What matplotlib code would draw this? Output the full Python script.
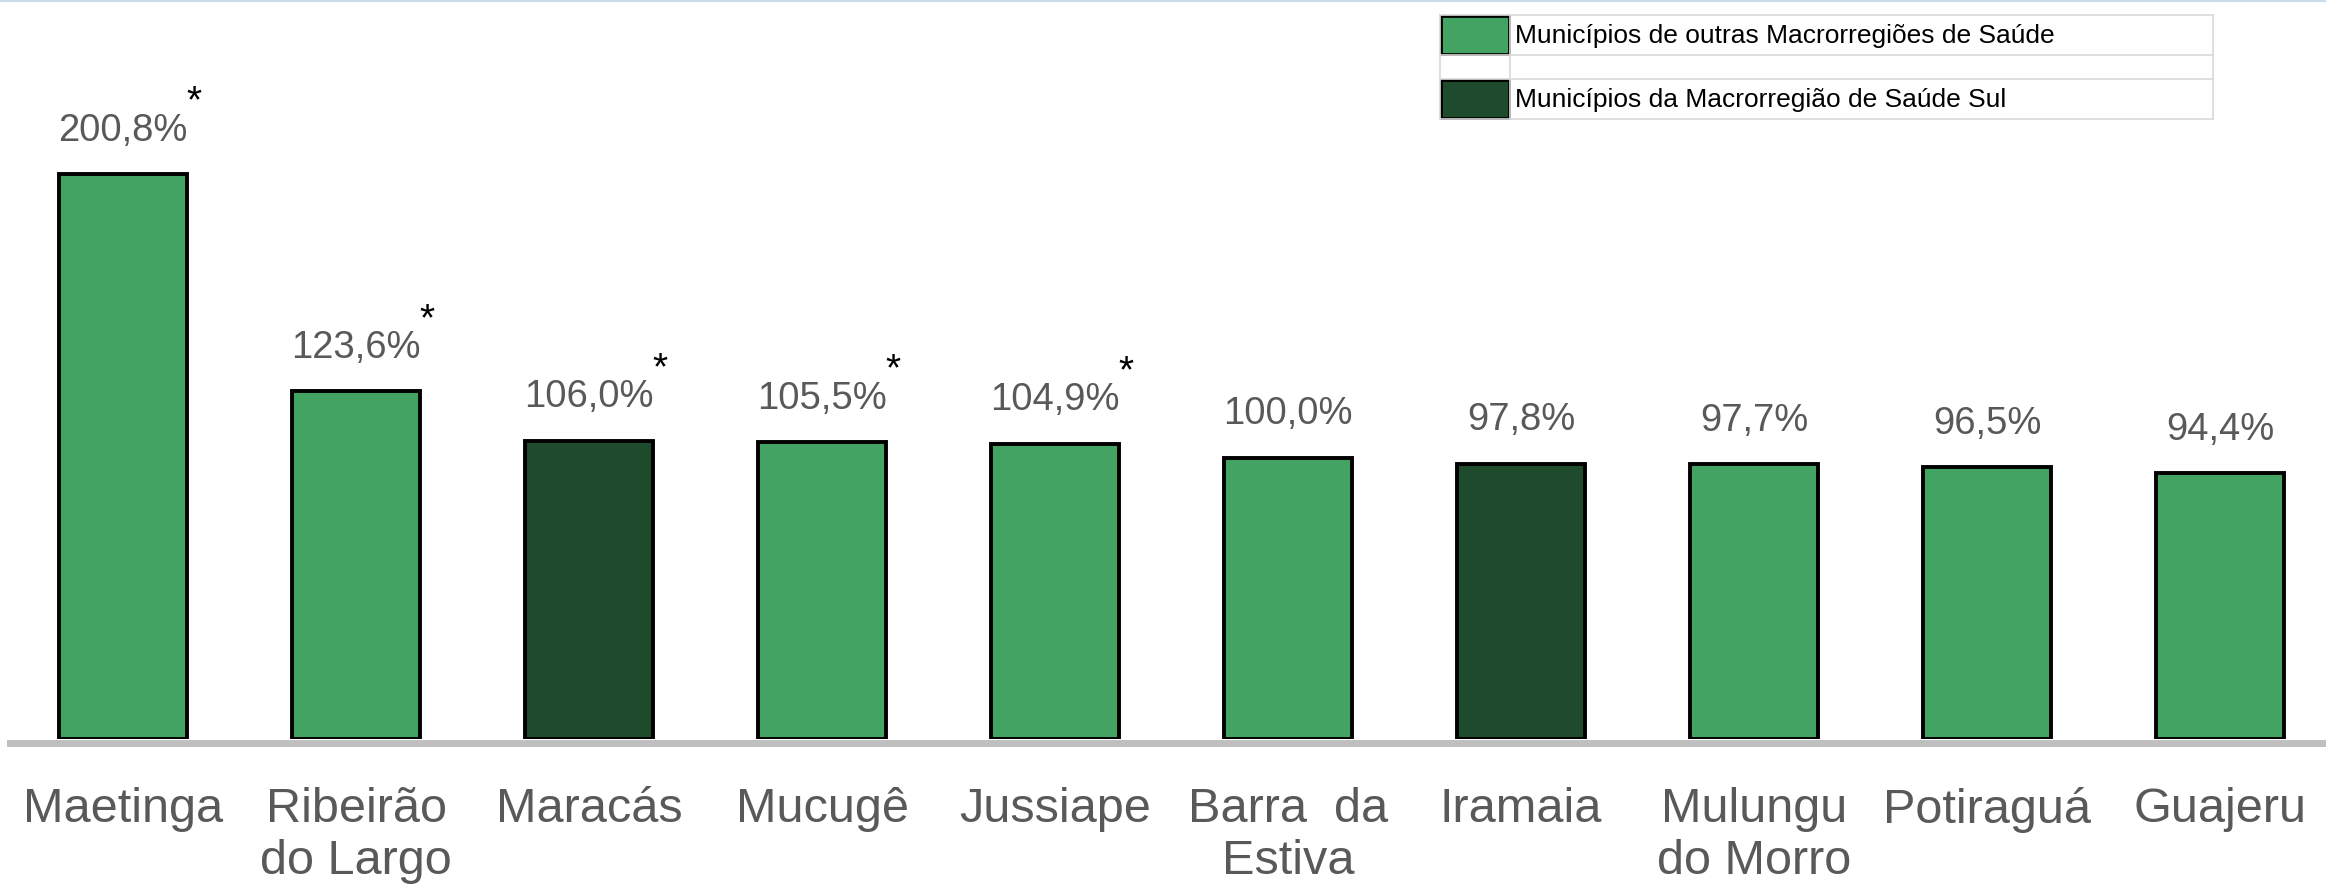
import matplotlib.pyplot as plt
from matplotlib.patches import Rectangle
from matplotlib.lines import Line2D

municipios = ["Maetinga", "Ribeirão\ndo Largo", "Maracás", "Mucugê", "Jussiape",
              "Barra  da\nEstiva", "Iramaia", "Mulungu\ndo Morro", "Potiraguá", "Guajeru"]
valores = [200.8, 123.6, 106.0, 105.5, 104.9, 100.0, 97.8, 97.7, 96.5, 94.4]
rotulos = ["200,8%", "123,6%", "106,0%", "105,5%", "104,9%",
           "100,0%", "97,8%", "97,7%", "96,5%", "94,4%"]
macro_sul = [False, False, True, False, False, False, True, False, False, False]
asterisco = [True, True, True, True, True, False, False, False, False, False]
legenda = ["Municípios de outras Macrorregiões de Saúde",
           "Municípios da Macrorregião de Saúde Sul"]

verde = "#43a362"
verde_escuro = "#1f4b2d"
cinza_texto = "#595959"

W, H = 2326, 886
fig = plt.figure(figsize=(W / 100, H / 100), dpi=100)
plt.rcParams['font.family'] = ['Liberation Sans', 'DejaVu Sans']

# main axes: baseline at y=739 px from top, bars spaced 233 px, first center at 123 px
base_px = 739
ax = fig.add_axes([0, 1 - base_px / H, 1, base_px / H])
step = 233
x0 = 123
ax.set_xlim(-x0 / step, (W - x0) / step)
ax.set_ylim(0, base_px / 2.814)
ax.axis("off")

cores = [verde_escuro if s else verde for s in macro_sul]
xs = list(range(len(valores)))
bars = ax.bar(xs, valores, width=0.55, color=cores, edgecolor="black",
              linewidth=2.8, zorder=3)

# gray axis line
ax.add_line(Line2D([10 / W, 1], [-0.006, -0.006], transform=ax.transAxes,
                   color="#bfbfbf", linewidth=5, clip_on=False, zorder=2))

for x, v, r, a in zip(xs, valores, rotulos, asterisco):
    t = ax.annotate(r, xy=(x, v), xytext=(0, 24), textcoords="offset points",
                    ha="center", va="baseline", fontsize=27.5, color=cinza_texto)
    if a:
        ax.annotate("*", xy=(1, 1), xycoords=t, xytext=(-1, 0),
                    textcoords="offset points", ha="left", va="baseline",
                    fontsize=28, color="black")

for x, nome in zip(xs, municipios):
    ax.text(x, -17, nome, ha="center", va="top", fontsize=35, color=cinza_texto,
            linespacing=1.2)

# top thin light-blue border
fig.add_artist(Line2D([0, 1], [1 - 0.8 / H, 1 - 0.8 / H], transform=fig.transFigure,
                      color="#c8dde8", linewidth=1.6))

# legend drawn as a small table
lg = fig.add_axes([0, 0, 1, 1], facecolor="none")
lg.set_xlim(0, W)
lg.set_ylim(H, 0)
lg.axis("off")
grid = "#d9d9d9"
left, mid, right = 1440, 1510, 2213
rows = [(15, 55), (55, 79), (79, 119)]
for y in [15, 55, 79, 119]:
    lg.plot([left, right], [y, y], color=grid, linewidth=1.2)
for xg in [left, mid, right]:
    lg.plot([xg, xg], [15, 119], color=grid, linewidth=1.2)
for (y0, y1), cor, texto in zip([rows[0], rows[2]], [verde, verde_escuro], legenda):
    lg.add_patch(Rectangle((left + 1, y0 + 1), mid - left - 2, y1 - y0 - 2,
                           facecolor=cor, edgecolor="black", linewidth=2))
    lg.text(mid + 5, (y0 + y1) / 2 + 1, texto, ha="left", va="center",
            fontsize=19, color="black")

fig.savefig("out.png", dpi=100)
